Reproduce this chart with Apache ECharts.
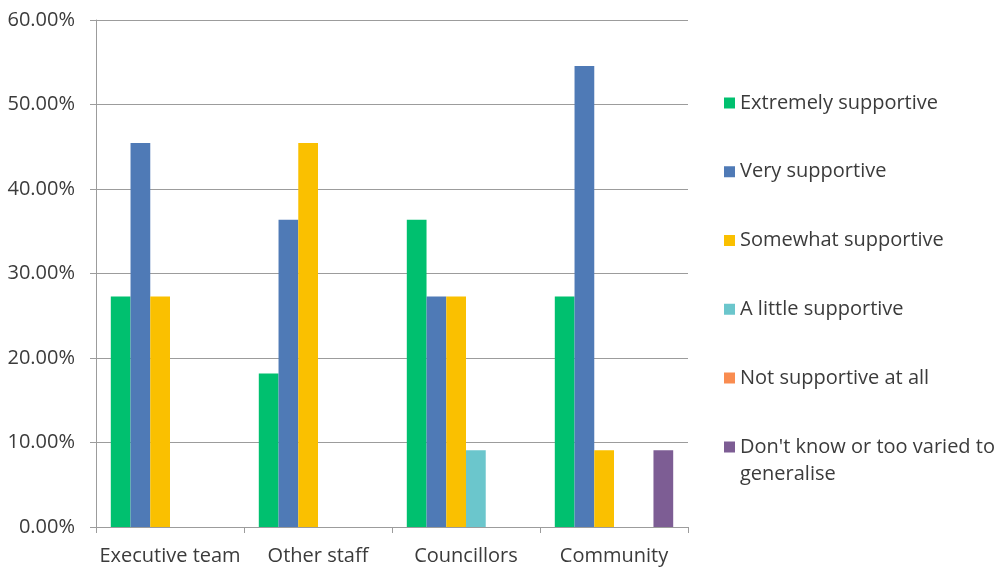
<!DOCTYPE html>
<html><head><meta charset="utf-8">
<script src="https://cdn.jsdelivr.net/npm/echarts@6/dist/echarts.min.js"></script>
<style>html,body{margin:0;padding:0;background:#fff}#c{width:998px;height:567px}</style>
</head><body><div id="c"></div>
<script>
const categories = ['Executive team', 'Other staff', 'Councillors', 'Community'];
const seriesNames = ['Extremely supportive', 'Very supportive', 'Somewhat supportive', 'A little supportive', 'Not supportive at all', "Don't know or too varied to generalise"];
const extremely = [27.27, 18.18, 36.36, 27.27];
const very = [45.45, 36.36, 27.27, 54.55];
const somewhat = [27.27, 45.45, 27.27, 9.09];
const little = [0, 0, 9.09, 0];
const notAtAll = [0, 0, 0, 0];
const dontKnow = [0, 0, 0, 9.09];
const yTicks = [0, 10, 20, 30, 40, 50, 60];
const colors = ['#00C06F', '#4F7AB6', '#FAC000', '#6BC6CC', '#F98C50', '#7D5D94'];

const values = [extremely, very, somewhat, little, notAtAll, dontKnow];
const FONT = 'Open Sans';
const FS = 20;
const TXT = '#3b3b3b';
const chart = echarts.init(document.getElementById('c'), null, {renderer: 'canvas'});
chart.setOption({
  animation: false,
  color: colors,
  textStyle: {fontFamily: FONT},
  grid: {left: 96, right: 310, top: 20, bottom: 40, containLabel: false},
  legend: [{
    orient: 'vertical', left: 724, top: 93, padding: 0,
    itemWidth: 11, itemHeight: 11, itemGap: 48.75,
    icon: 'rect',
    textStyle: {fontFamily: FONT, fontSize: FS, color: TXT, lineHeight: 20},
    data: seriesNames.slice(0, 5)
  }, {
    orient: 'vertical', left: 724, top: 406.5, padding: 0,
    itemWidth: 11, itemHeight: 11,
    icon: 'rect',
    textStyle: {fontFamily: FONT, fontSize: FS, color: TXT, lineHeight: 27},
    data: seriesNames.slice(5),
    formatter: () => "\nDon't know or too varied to\ngeneralise"
  }],
  xAxis: {
    type: 'category', data: categories,
    axisLine: {lineStyle: {color: '#9c9c9c', width: 1}},
    axisTick: {show: true, length: 6, lineStyle: {color: '#9c9c9c'}},
    axisLabel: {interval: 0, fontFamily: FONT, fontSize: FS, color: TXT, margin: 19}
  },
  yAxis: {
    type: 'value', min: 0, max: 60, interval: 10,
    axisLine: {show: true, lineStyle: {color: '#9c9c9c'}},
    axisTick: {show: true, length: 6, lineStyle: {color: '#9c9c9c'}},
    splitLine: {lineStyle: {color: '#9c9c9c'}},
    axisLabel: {fontFamily: FONT, fontSize: FS, color: TXT, margin: 21, formatter: v => v.toFixed(2) + '%'}
  },
  series: values.map((d, i) => ({
    name: seriesNames[i], type: 'bar', data: d,
    barGap: '0%', barCategoryGap: '20%'
  }))
});
</script></body></html>
